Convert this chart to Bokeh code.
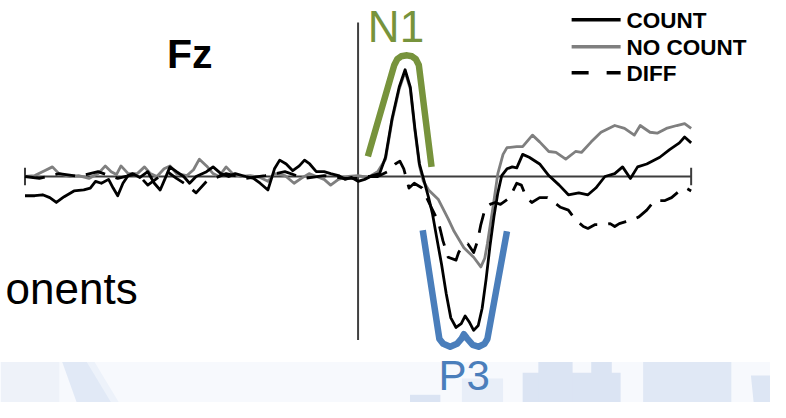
import numpy as np
from bokeh.plotting import figure
from bokeh.models import Range1d
from bokeh.core.properties import value
from bokeh.embed import file_html
from bokeh.resources import INLINE

# ---------------- data (time in ms, amplitude in microvolts, negative plotted up) ----------------
channel = "Fz"
legend_labels = ["COUNT", "NO COUNT", "DIFF"]
component_labels = ["N1", "P3"]
side_text = "onents"

count_t = [-510, -495, -483, -472, -462, -450, -435, -420, -410, -402,
           -393, -382, -375, -368, -360, -352, -345, -334, -322, -312,
           -303, -296, -288, -278, -267, -258, -248, -232, -222, -210,
           -198, -188, -172, -160, -150, -138, -128, -120, -110, -100,
           -90, -82, -74, -64, -52, -42, -30, -20, -10, 0,
           10, 22, 33,
           42, 52, 63, 72, 80, 87, 94,
           102, 108, 114, 120, 128, 135, 142, 150, 158, 164,
           170, 177, 184, 190, 196, 202, 208, 214, 220, 228,
           236, 243, 252, 262, 278, 292, 308, 322, 338, 352,
           364, 378, 393, 405, 417, 428, 442, 462, 477, 492,
           500, 510]
count_v = [2.0, 2.0, 1.9, 2.2, 2.7, 2.1, 1.5, 1.4, 1.2, 0.5,
           0.7, 0.3, 1.2, 2.0, 0.7, -0.1, -0.3, 0.1, -0.5, 0.7,
           1.4, 0.3, -1.0, -0.5, 0.0, 0.7, 0.0, -0.5, -1.0, -0.3,
           0.0, -0.3, 0.0, 0.2, 0.7, 1.4, -0.8, -1.7, -1.3, -0.6,
           -1.1, -1.7, -1.3, -0.5, -0.5, -0.3, -0.1, 0.3, 0.1, 0.5,
           0.3, -0.1, -0.3,
           -2.0, -6.0, -9.3, -11.1, -9.3, -5.0, -1.3,
           0.7, 2.2, 3.9, 6.2, 9.2, 12.2, 14.7, 15.7, 15.3, 14.5,
           15.1, 16.0, 15.5, 13.7, 10.7, 7.2, 4.2, 1.7, -0.1, -0.8,
           -1.0, -0.9, -2.3, -2.0, -1.3, -0.1, 0.9, 1.9, 1.7, 1.9,
           1.2, 0.0, -0.3, -1.0, 0.2, -1.0, -1.3, -2.0, -2.8, -3.5,
           -4.1, -3.5]

nocount_t = [-510, -495, -480, -468, -458, -442, -428, -412, -398, -387,
             -378, -370, -363, -352, -338, -327, -318, -308, -297, -288,
             -278, -262, -252, -243, -232, -222, -213, -202, -192, -180,
             -165, -150, -138, -128, -112, -98, -87, -75, -64, -52,
             -42, -30, -15, 0, 15, 30,
             42, 52, 63, 72, 80, 87, 94, 100, 108, 123,
             138, 147, 162, 177, 188, 194, 198, 207, 214, 222,
             228, 243, 252, 267, 278, 292, 303, 318, 333, 342,
             357, 372, 393, 408, 423, 432, 447, 458, 472, 488,
             500, 510]
nocount_v = [0.0, -0.1, -0.6, -1.0, -0.3, 0.0, -0.1, 0.2, -0.3, -1.1,
             -0.5, -0.2, -1.1, -0.3, -0.3, -1.0, -0.3, 0.0, -0.8, -1.1,
             -0.3, -0.1, -0.7, -1.8, -1.1, -0.3, 0.0, -1.0, -0.3, 0.0,
             -0.1, 0.1, 0.5, -0.3, -0.1, 0.7, 0.2, -0.3, 0.0, 0.3,
             0.9, 0.3, 0.0, -0.1, 0.1, -0.5,
             -1.8, -5.8, -9.1, -10.9, -9.1, -4.8, -1.1, 0.5, 1.4, 2.4,
             4.4, 5.7, 7.4, 8.4, 9.4, 8.5, 7.0, 3.0, -0.3, -2.3,
             -3.0, -3.1, -3.1, -4.3, -3.6, -2.6, -2.5, -1.8, -2.6, -2.5,
             -3.6, -4.6, -5.3, -5.0, -4.3, -5.3, -4.6, -4.5, -5.0, -5.3,
             -5.5, -5.0]

diff_t = [-510, -488, -458, -428, -398, -368, -338, -322, -308, -292,
          -278, -262, -248, -232, -202, -172, -142, -112, -82, -52,
          -22, 0, 15, 30, 45, 57, 64, 70, 78, 86,
          98, 112, 123, 130, 138, 150, 154, 160, 168, 177,
          183, 188, 195, 202, 210, 218, 232, 243, 250, 258,
          266, 278, 290, 300, 310, 322, 333, 345, 352, 363,
          375, 386, 393, 400, 410, 420, 430, 442, 454, 470,
          480, 492, 502, 510]
diff_v = [0.0, 0.2, -0.3, 0.0, -0.5, 0.2, -0.3, 0.9, 0.2, -0.5,
          0.2, 0.9, 1.7, 0.5, -0.3, 0.2, -0.1, -0.5, 0.2, -0.1,
          0.2, 0.2, 0.0, 0.0, -0.5, -1.3, -1.6, -0.8, 1.2, 0.7,
          1.2, 3.2, 4.7, 6.7, 8.4, 8.7, 7.9, 7.2, 7.0, 7.9,
          6.7, 5.0, 3.2, 2.9, 2.7, 2.9, 2.2, 0.7, 0.9, 2.2,
          2.7, 2.2, 2.2, 2.7, 3.2, 3.5, 4.5, 5.2, 5.4, 5.0,
          5.0, 4.9, 5.2, 4.9, 4.7, 4.5, 4.2, 3.5, 2.5, 2.5,
          2.2, 1.5, 1.2, 1.5]

yaxis_lim = [-16.0, 17.0]   # extent of the vertical (stimulus onset) line, microvolts

assert len(count_t) == len(count_v)
assert len(nocount_t) == len(nocount_v)
assert len(diff_t) == len(diff_v)

# ---------------- layout helpers (reference pixels -> data units, decoration only) ----------------
MS_PER_PX = 1.5
UV_PER_PX = 0.1
REF_W, REF_H = 786, 418
W, H = 770, 402
SY = H / REF_H

def X(px):
    return (px - 365) * MS_PER_PX

def Y(py):
    return (py - 183) * UV_PER_PX

def base(py, fs):
    # the text glyph lands ~0.39 em lower than the requested alphabetic baseline
    return Y(py - 0.39 * fs / SY)

p = figure(width=W, height=H,
           x_range=Range1d(X(0), X(REF_W)),
           y_range=Range1d(Y(REF_H), Y(0)),
           output_backend="svg", toolbar_location=None,
           min_border=0, x_axis_location=None, y_axis_location=None,
           background_fill_color="white", border_fill_color="white",
           outline_line_color=None)
p.grid.visible = False

FONT = value("Liberation Sans")

# ---------------- pale slide background strip at the bottom ----------------
p.quad(left=[X(0)], right=[X(800)], top=[Y(376)], bottom=[Y(430)],
       color="#f7f9fd", line_color=None)
p.quad(left=[X(0)], right=[X(60)], top=[Y(376)], bottom=[Y(430)],
       color="#eef2f9", line_color=None)
p.patch([X(63), X(90), X(125), X(82)], [Y(376), Y(376), Y(430), Y(430)],
        color="#e1e9f6", line_color=None)
p.patch([X(88), X(96), X(128), X(120)], [Y(376), Y(376), Y(430), Y(430)],
        color="#edf2fa", line_color=None)
p.quad(left=[X(418), X(471), X(533), X(549), X(603), X(656)],
       right=[X(449), X(513), X(633), X(584), X(624), X(746)],
       top=[Y(410), Y(393), Y(387), Y(376), Y(376), Y(376)],
       bottom=[Y(430)] * 6,
       color=["#dbe4f3", "#e8eef8", "#dbe4f3", "#dbe4f3", "#dbe4f3", "#e0e8f5"],
       line_color=None)
p.patch([X(766), X(790), X(790), X(770)], [Y(390), Y(390), Y(430), Y(430)],
        color="#dde6f4", line_color=None)

# ---------------- axes ----------------
t0, t1 = count_t[0], count_t[-1]
p.line([t0, t1], [0, 0], color="#3c3c3c", line_width=2)
p.segment(x0=[t0, t1], y0=[-0.9, -0.9], x1=[t0, t1], y1=[0.9, 0.9],
          color="#3c3c3c", line_width=2)
p.line([0, 0], yaxis_lim, color="#404040", line_width=2)

# ---------------- waveforms ----------------
p.line(nocount_t, nocount_v, color="#7f7f7f", line_width=2.8, line_join="round")
p.line(count_t, count_v, color="black", line_width=2.8, line_join="round")
p.line(diff_t, diff_v, color="black", line_width=2.8, line_dash="20 11",
       line_join="round")

# ---------------- component brackets, placed relative to the peaks ----------------
i_n1 = int(np.argmin(count_v))
i_p3 = int(np.argmax(count_v))
n1_t, n1_v = count_t[i_n1], count_v[i_n1]
p3_t, p3_v = count_t[i_p3], count_v[i_p3]

green = "#77933c"
blue = "#4a7ebb"

g_off = [(-38, 90), (-11, -5), (-8, -11), (-4, -14), (2, -15), (7, -14),
         (11, -11), (14, -5), (27, 101)]
p.line([n1_t + dx * MS_PER_PX for dx, dy in g_off],
       [n1_v + dy * UV_PER_PX for dx, dy in g_off],
       color=green, line_width=6.5, line_join="round")

b_off = [(-52, -104), (-35, 9), (-31, 14), (-24, 17), (-17, 14), (-12, 8),
         (-10, 4), (-7, 8), (-1, 15), (5, 17), (11, 14), (14, 9), (34, -103)]
p.line([p3_t + dx * MS_PER_PX for dx, dy in b_off],
       [p3_v + dy * UV_PER_PX for dx, dy in b_off],
       color=blue, line_width=6.5, line_join="round")

# component labels: N1 above the N1 peak, P3 below the P3 peak
n1_px = 365 + n1_t / MS_PER_PX
n1_py = 183 + n1_v / UV_PER_PX
p3_px = 365 + p3_t / MS_PER_PX
p3_py = 183 + p3_v / UV_PER_PX
p.text(x=[X(n1_px - 38)], y=[base(n1_py - 27, 44)], text=[component_labels[0]],
       text_font=FONT, text_font_size="44px", text_color=green,
       text_baseline="alphabetic", text_align="left")
p.text(x=[X(p3_px - 36)], y=[base(p3_py + 64, 42)], text=[component_labels[1]],
       text_font=FONT, text_font_size="42px", text_color=blue,
       text_baseline="alphabetic", text_align="left")

# ---------------- titles / texts ----------------
p.text(x=[X(170)], y=[base(72, 41)], text=[channel], text_font=FONT,
       text_font_size="41px", text_font_style="bold", text_color="black",
       text_baseline="alphabetic", text_align="left")
p.text(x=[X(140)], y=[base(317, 44)], text=[side_text], text_font=FONT,
       text_font_size="44px", text_color="black",
       text_baseline="alphabetic", text_align="right")

# ---------------- legend ----------------
leg_y = [20, 48, 75]
leg_style = [dict(color="black", line_width=3.5),
             dict(color="#7f7f7f", line_width=3.5),
             dict(color="black", line_width=3.5, line_dash="17 18")]
for yy, st in zip(leg_y, leg_style):
    p.line([X(583), X(633)], [Y(yy), Y(yy)], **st)
p.text(x=[X(639)] * 3, y=[base(yy + 10, 22.5) for yy in leg_y], text=legend_labels,
       text_font=FONT, text_font_size="22.5px", text_font_style="bold",
       text_color="black", text_baseline="alphabetic", text_align="left")

open("out.html", "w").write(file_html(p, INLINE))
